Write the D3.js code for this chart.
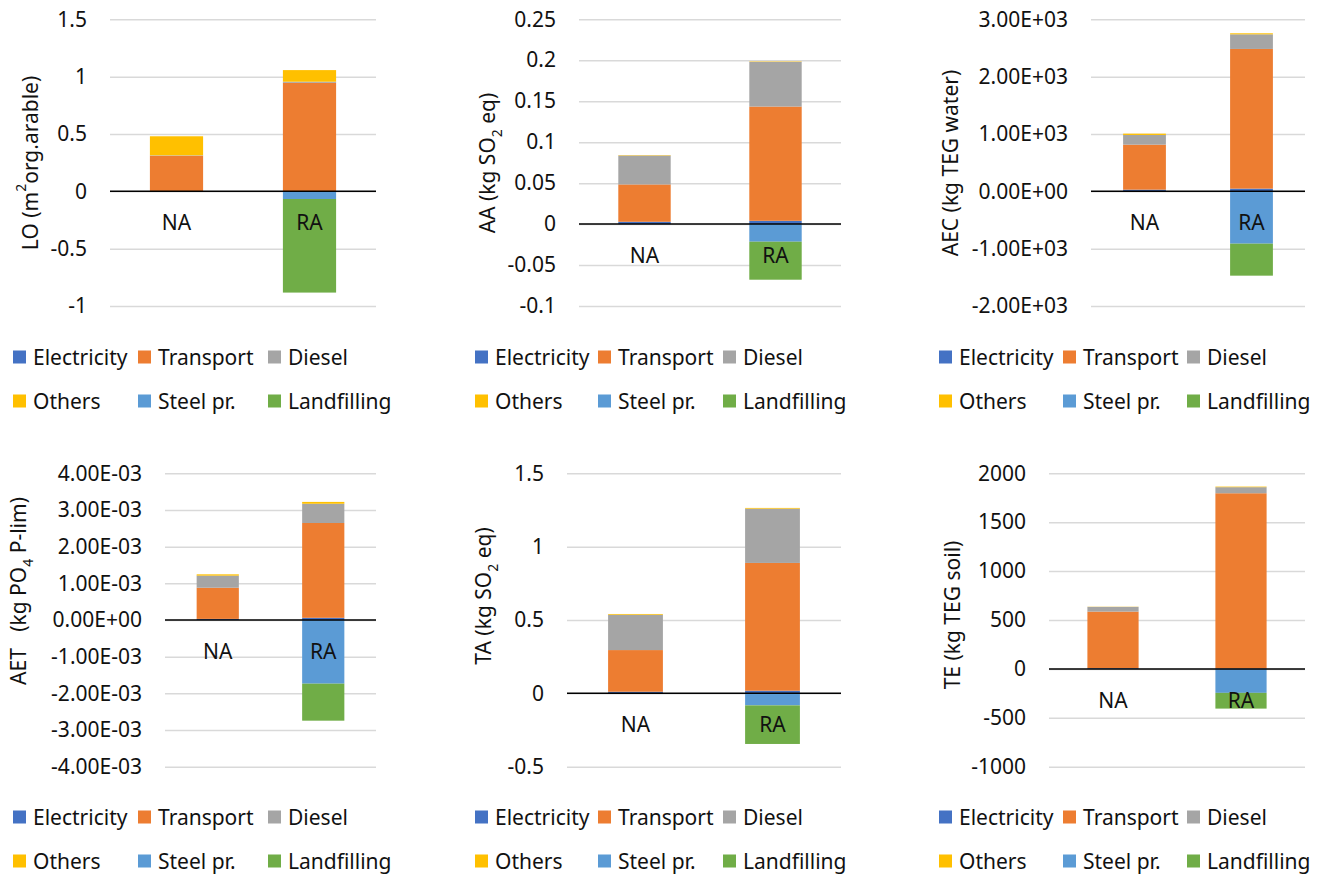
<!DOCTYPE html>
<html>
<head>
<meta charset="utf-8">
<script src="https://cdn.jsdelivr.net/npm/d3@7"></script>
<style>
  html, body { margin: 0; padding: 0; background: #fff; }
  svg { display: block; font-family: "Noto Sans", "Liberation Sans", sans-serif; }
  text { fill: #111; }
</style>
</head>
<body>
<svg id="chart" width="1317" height="876"></svg>
<script>
// Shared categories and series
const categories = ["NA", "RA"];
const seriesNames = ["Electricity", "Transport", "Diesel", "Others", "Steel pr.", "Landfilling"];
const seriesColors = ["#4472C4", "#ED7D31", "#A5A5A5", "#FFC000", "#5B9BD5", "#70AD47"];

// Land occupation (m2 org.arable) — values per series, NA then RA
const loNA = [0.002, 0.308, 0.004, 0.166, 0, 0];
const loRA = [0.002, 0.944, 0.010, 0.101, -0.067, -0.816];
const loTicks = [1.5, 1, 0.5, 0, -0.5, -1];
const loTickLabels = ["1.5", "1", "0.5", "0", "-0.5", "-1"];

// Aquatic acidification (kg SO2 eq)
const aaNA = [0.0028, 0.0456, 0.0353, 0.0005, 0, 0];
const aaRA = [0.0040, 0.1395, 0.0545, 0.0005, -0.0215, -0.0464];
const aaTicks = [0.25, 0.2, 0.15, 0.1, 0.05, 0, -0.05, -0.1];
const aaTickLabels = ["0.25", "0.2", "0.15", "0.1", "0.05", "0", "-0.05", "-0.1"];

// Aquatic ecotoxicity (kg TEG water)
const aecNA = [29, 785, 169, 23, 0, 0];
const aecRA = [47, 2436, 255, 18, -913, -558];
const aecTicks = [3000, 2000, 1000, 0, -1000, -2000];
const aecTickLabels = ["3.00E+03", "2.00E+03", "1.00E+03", "0.00E+00", "-1.00E+03", "-2.00E+03"];

// Aquatic eutrophication (kg PO4 P-lim)
const aetNA = [0.00003, 0.00085, 0.00033, 0.000035, 0, 0];
const aetRA = [0.00006, 0.002585, 0.000525, 0.00005, -0.001736, -0.001009];
const aetTicks = [0.004, 0.003, 0.002, 0.001, 0, -0.001, -0.002, -0.003, -0.004];
const aetTickLabels = ["4.00E-03", "3.00E-03", "2.00E-03", "1.00E-03", "0.00E+00",
                       "-1.00E-03", "-2.00E-03", "-3.00E-03", "-4.00E-03"];

// Terrestrial acidification (kg SO2 eq)
const taNA = [0.011, 0.284, 0.241, 0.005, 0, 0];
const taRA = [0.018, 0.871, 0.370, 0.005, -0.082, -0.263];
const taTicks = [1.5, 1, 0.5, 0, -0.5];
const taTickLabels = ["1.5", "1", "0.5", "0", "-0.5"];

// Terrestrial ecotoxicity (kg TEG soil)
const teNA = [8, 578, 48, 2, 0, 0];
const teRA = [5, 1791, 62, 6, -245, -161];
const teTicks = [2000, 1500, 1000, 500, 0, -500, -1000];
const teTickLabels = ["2000", "1500", "1000", "500", "0", "-500", "-1000"];

// Panel layout: plot box, axis title pieces, legend anchor
const panels = [
  { na: loNA, ra: loRA, ticks: loTicks, labels: loTickLabels,
    x0: 110, x1: 376, y0: 19.3, y1: 306,
    title: [["LO (m", 0], ["2", 1], ["org.arable)", 0]], titleX: 30, titleY: 163,
    legendX: [13, 138, 268], legendY: [357, 401] },
  { na: aaNA, ra: aaRA, ticks: aaTicks, labels: aaTickLabels,
    x0: 579, x1: 841, y0: 19.3, y1: 306,
    title: [["AA (kg SO", 0], ["2", -1], [" eq)", 0]], titleX: 487, titleY: 163,
    legendX: [475, 598, 723], legendY: [357, 401] },
  { na: aecNA, ra: aecRA, ticks: aecTicks, labels: aecTickLabels,
    x0: 1091, x1: 1305, y0: 19.3, y1: 306,
    title: [["AEC (kg TEG water)", 0]], titleX: 950, titleY: 163,
    legendX: [939, 1063, 1187], legendY: [357, 401] },
  { na: aetNA, ra: aetRA, ticks: aetTicks, labels: aetTickLabels,
    x0: 165, x1: 376, y0: 473.3, y1: 766.7,
    title: [["AET   (kg PO", 0], ["4", -1], [" P-lim)", 0]], titleX: 18, titleY: 591,
    legendX: [13, 138, 268], legendY: [817, 861] },
  { na: taNA, ra: taRA, ticks: taTicks, labels: taTickLabels,
    x0: 567, x1: 841, y0: 473.3, y1: 766.7,
    title: [["TA (kg SO", 0], ["2", -1], [" eq)", 0]], titleX: 483, titleY: 596,
    legendX: [475, 598, 723], legendY: [817, 861] },
  { na: teNA, ra: teRA, ticks: teTicks, labels: teTickLabels,
    x0: 1049, x1: 1305, y0: 473.3, y1: 766.7,
    title: [["TE (kg TEG soil)", 0]], titleX: 952, titleY: 615,
    legendX: [939, 1063, 1187], legendY: [817, 861] }
];

const svg = d3.select("#chart");
const FONT = 21;

const stack = d3.stack().keys(seriesNames).offset(d3.stackOffsetDiverging);

panels.forEach(p => {
  const g = svg.append("g");

  const rows = [p.na, p.ra].map((vals, i) => {
    const row = { cat: categories[i] };
    seriesNames.forEach((s, j) => row[s] = vals[j]);
    return row;
  });

  const x = d3.scaleBand().domain(categories).range([p.x0, p.x1])
    .paddingInner(0.6).paddingOuter(0.3);
  const y = d3.scaleLinear().domain(d3.extent(p.ticks)).range([p.y1, p.y0]);

  // gridlines + tick labels
  const axis = d3.axisLeft(y).tickValues(p.ticks)
    .tickSize(-(p.x1 - p.x0)).tickPadding(23)
    .tickFormat((d, i) => p.labels[i]);
  const ax = g.append("g").attr("transform", `translate(${p.x0},0)`).call(axis);
  ax.select(".domain").remove();
  ax.selectAll(".tick line").attr("stroke", "#d9d9d9").attr("stroke-width", 1.5);
  ax.selectAll(".tick text").attr("font-size", FONT).attr("fill", "#111")
    .attr("font-family", "Noto Sans, Liberation Sans, sans-serif");

  // stacked bars
  const layers = stack(rows);
  g.append("g").selectAll("g").data(layers).join("g")
    .attr("fill", (d, i) => seriesColors[i])
    .selectAll("rect").data(d => d).join("rect")
    .attr("x", d => x(d.data.cat))
    .attr("width", x.bandwidth())
    .attr("y", d => y(Math.max(d[0], d[1])))
    .attr("height", d => Math.abs(y(d[0]) - y(d[1])));

  // zero axis line
  g.append("line")
    .attr("x1", p.x0).attr("x2", p.x1)
    .attr("y1", y(0)).attr("y2", y(0))
    .attr("stroke", "#000").attr("stroke-width", 1.5);

  // category labels just below the axis
  g.append("g").selectAll("text").data(categories).join("text")
    .attr("x", d => x(d) + x.bandwidth() / 2)
    .attr("y", y(0) + 31)
    .attr("text-anchor", "middle")
    .attr("dominant-baseline", "central")
    .attr("font-size", FONT)
    .text(d => d);

  // axis title (rotated), with sub/superscripts
  const t = g.append("text")
    .attr("transform", `translate(${p.titleX},${p.titleY}) rotate(-90)`)
    .attr("text-anchor", "middle")
    .attr("dominant-baseline", "central")
    .attr("font-size", FONT)
    .style("white-space", "pre");
  p.title.forEach(([str, shift]) => {
    const ts = t.append("tspan").text(str);
    if (shift === 1) ts.attr("font-size", 14).attr("baseline-shift", "super");
    if (shift === -1) ts.attr("font-size", 14).attr("baseline-shift", "sub");
  });

  // legend: two rows of three
  seriesNames.forEach((s, i) => {
    const col = i % 3, row = Math.floor(i / 3);
    const lx = p.legendX[col], ly = p.legendY[row];
    g.append("rect").attr("x", lx).attr("y", ly - 6.5)
      .attr("width", 13).attr("height", 13).attr("fill", seriesColors[i]);
    g.append("text").attr("x", lx + 20).attr("y", ly)
      .attr("dominant-baseline", "central")
      .attr("font-size", FONT).text(s);
  });
});
</script>
</body>
</html>
